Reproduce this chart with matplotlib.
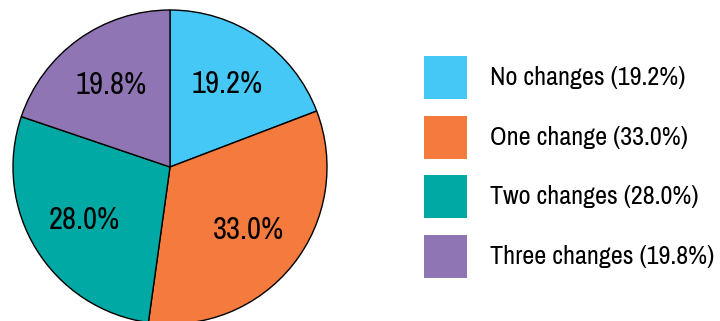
import matplotlib
matplotlib.use("Agg")
import matplotlib.pyplot as plt
from matplotlib.patches import Rectangle

categories = ["No changes", "One change", "Two changes", "Three changes"]
values = [19.2, 33.0, 28.0, 19.8]
colors = ["#45C8F5", "#F47A3D", "#00A9A4", "#9075B4"]

plt.rcParams['font.family'] = ["Archivo Narrow", "DejaVu Sans"]

W, H = 720, 321
fig = plt.figure(figsize=(W / 100, H / 100), dpi=100)
fig.patch.set_facecolor("white")

r_px = 157
cx, cy = 170, 321 - 167
ax = fig.add_axes([(cx - r_px) / W, (cy - r_px) / H, 2 * r_px / W, 2 * r_px / H])
wedges, texts, autotexts = ax.pie(
    values, colors=colors, startangle=90, counterclock=False,
    autopct="%.1f%%", pctdistance=0.64,
    wedgeprops=dict(edgecolor="black", linewidth=1.0),
    textprops=dict(fontsize=22, color="black", weight="semibold"),
)
ax.set_xlim(-1, 1)
ax.set_ylim(-1, 1)
ax.set_aspect("equal")
ax.axis("off")

# legend
box_x, box_w = 424, 43
tops = [56, 116, 175, 235]
for cat, val, col, top in zip(categories, values, colors, tops):
    fig.patches.append(Rectangle((box_x / W, 1 - (top + box_w) / H), box_w / W, box_w / H,
                                 transform=fig.transFigure, facecolor=col, edgecolor="none"))
    fig.text(490 / W, 1 - (top + box_w / 2) / H, f"{cat} ({val:.1f}%)",
             fontsize=18.8, va="center", ha="left", color="black")

fig.savefig("out.png", dpi=100, facecolor="white")
